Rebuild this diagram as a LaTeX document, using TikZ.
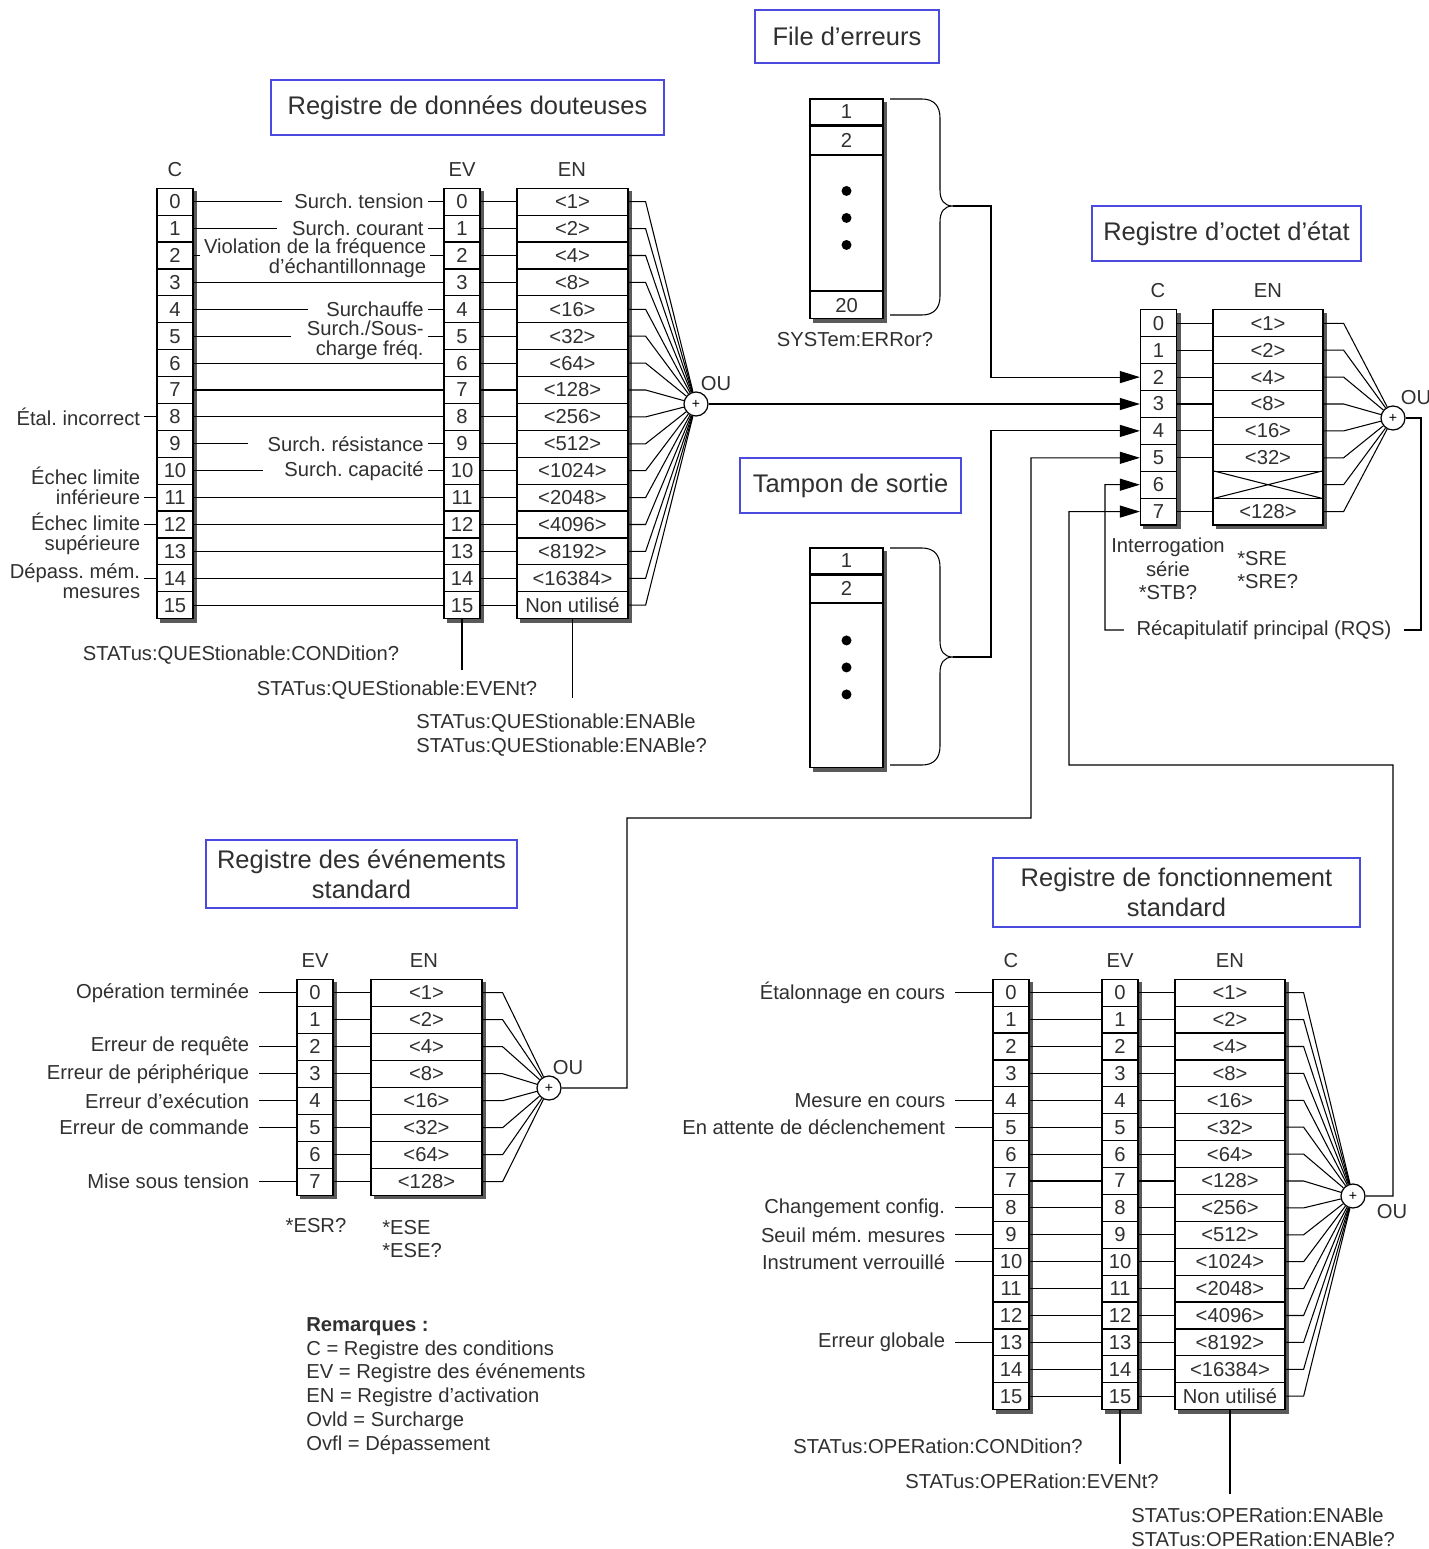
\documentclass[tikz,border=0pt]{standalone}
\usepackage{fontspec}
\setmainfont{Liberation Sans}
\usetikzlibrary{arrows.meta,positioning,calc,backgrounds}
\definecolor{ttl}{HTML}{4A4ADE}
\definecolor{ink}{HTML}{303030}
\definecolor{shd}{HTML}{5A5A5A}
\newcommand\cellfont{\fontsize{11.5}{11.5}\selectfont}
\newcommand\ttlfont{\fontsize{14.5}{17}\selectfont}
\newcommand\notefont{\fontsize{11.5}{13.6}\selectfont}
\frenchspacing
\tikzset{
  >={Triangle[length=4mm,width=2.4mm]},
  cellbox/.style={draw,fill=white,line width=0.7pt,minimum width=#1,minimum height=5.38mm,inner sep=0pt,font=\cellfont,text=ink},
  cellbox/.default=7.2mm,
  ttlbox/.style={draw=ttl,line width=1.1pt,inner sep=0pt,align=center,font=\ttlfont,text=ink},
  hdr/.style={font=\cellfont,text=ink},
  lbl/.style={font=\cellfont,text=ink,align=right,inner xsep=2pt,inner ysep=0pt},
  note/.style={font=\notefont,text=ink,inner sep=0pt},
  orgate/.style={circle,draw,fill=white,line width=0.7pt,minimum size=4.8mm,inner sep=0pt,font=\fontsize{8}{8}\selectfont},
  wire/.style={line width=0.6pt},
  arr/.style={wire,->},
  shdfill/.style={fill=shd},
}
\def\enlist{0/<1>,1/<2>,2/<4>,3/<8>,4/<16>,5/<32>,6/<64>,7/<128>,8/<256>,9/<512>,10/<1024>,11/<2048>,12/<4096>,13/<8192>,14/<16384>,15/Non utilisé}

\begin{document}
\frenchspacing
\begin{tikzpicture}[x=0.02cm,y=-0.02cm]
\useasboundingbox (0,0) rectangle (1429,1549);

% registre de donnees douteuses
\node[ttlbox,minimum width=7.86cm,minimum height=1.1cm] (qttl) at (467.5,107.5) {Registre de données douteuses};
\node[hdr] (qhc) at (175,170) {C};
\node[hdr] (qhev) at (462,170) {EV};
\node[hdr] (qhen) at (572,170) {EN};
\node[orgate] (qor) at (696,404) {+};
\node[hdr] (qou) at (716,384) {OU};
\foreach \i/\val in \enlist {
  \node[cellbox] (qc\i) at (175,201.7+26.9*\i) {\i};
  \node[cellbox] (qev\i) at (462,201.7+26.9*\i) {\i};
  \node[cellbox=2.22cm] (qen\i) at (572.5,201.7+26.9*\i) {\val};
  \draw[wire] (qev\i.east) -- (qen\i.west);
  \draw[wire] (qen\i.east) -- ++(17,0) -- (qor);
}
\foreach \i in {3,6,7,8,11,12,13,14,15} \draw[wire] (qc\i.east) -- (qev\i.west);
\node[lbl,anchor=east] (ql0) at (427.5,201.7) {Surch. tension};
\node[lbl,anchor=east] (ql1) at (427.5,228.6) {Surch. courant};
\node[lbl,anchor=east] (ql2) at (430,258) {Violation de la fréquence\\d'échantillonnage};
\node[lbl,anchor=east] (ql4) at (427.5,309.3) {Surchauffe};
\node[lbl,anchor=east] (ql5) at (427.5,340) {Surch./Sous-\\charge fréq.};
\node[lbl,anchor=east] (ql9) at (427.5,443.8) {Surch. résistance};
\node[lbl,anchor=east] (ql10) at (427.5,470.7) {Surch. capacité};
\foreach \i/\g in {0/1.7mm,1/2.3mm,2/0mm,4/2.9mm,5/2.4mm,9/3.1mm,10/3.5mm} {
  \draw[wire,shorten >=\g] (qc\i.east) -- (qc\i.east -| ql\i.west);
  \draw[wire] (ql\i.east |- qev\i.west) -- (qev\i.west);
}
\node[lbl,anchor=east] (qll8) at (144,416.9) {Étal. incorrect};
\node[lbl,anchor=east] (qll11) at (144,486) {Échec limite\\inférieure};
\node[lbl,anchor=east] (qll12) at (144,534) {Échec limite\\supérieure};
\node[lbl,anchor=east] (qll14) at (144,581) {Dépass. mém.\\mesures};
\foreach \i in {8,11,12,14} \draw[wire] (qll\i.east |- qc\i.west) -- (qc\i.west);
\node[note] (qcq) at (241,655) {STATus:QUEStionable:CONDition?};
\node[note] (qevq) at (397,690) {STATus:QUEStionable:EVENt?};
\node[note,anchor=west,align=left] (qenq) at (416,735) {STATus:QUEStionable:ENABle\\STATus:QUEStionable:ENABle?};
\draw[wire,shorten >=2mm] (qev15.south) -- (qev15.south |- qevq.north);
\draw[wire,shorten >=3mm] (qen15.south) -- (qen15.south |- qenq.north);

% file d'erreurs
\node[ttlbox,minimum width=3.68cm,minimum height=1.06cm] (eqttl) at (847,36.5) {File d'erreurs};
\node[cellbox=1.46cm,minimum height=0.52cm] (eq1) at (846.5,112) {1};
\node[cellbox=1.46cm,minimum height=0.56cm,below=0pt of eq1] (eq2) {2};
\node[cellbox=1.46cm,minimum height=2.7cm,below=0pt of eq2] (eqmid) {};
\node[cellbox=1.46cm,minimum height=0.54cm,below=0pt of eqmid] (eq20) {20};
\foreach \d in {-32,-5,22} \fill[black] ($(eqmid.center)+(0,\d)$) circle[radius=1mm];
\draw[wire] (890,99) -- (922,99) .. controls (934,99) and (940,106) .. (940,118) -- (940,190)
  .. controls (940,200) and (944,206) .. (953,206) .. controls (944,206) and (940,212) .. (940,222)
  -- (940,296) .. controls (940,308) and (934,315) .. (922,315) -- (890,315);
\coordinate (eqtip) at (953,206);
\node[note] (eqq) at (855,340) {SYSTem:ERRor?};

% tampon de sortie
\node[ttlbox,minimum width=4.42cm,minimum height=1.1cm] (obttl) at (850.5,485.5) {Tampon de sortie};
\node[cellbox=1.46cm,minimum height=0.52cm] (ob1) at (846.5,561) {1};
\node[cellbox=1.46cm,minimum height=0.54cm,below=0pt of ob1] (ob2) {2};
\node[cellbox=1.46cm,minimum height=3.28cm,below=0pt of ob2] (obmid) {};
\foreach \d in {-45,-18,9} \fill[black] ($(obmid.center)+(0,\d)$) circle[radius=1mm];
\draw[wire] (890,548) -- (922,548) .. controls (934,548) and (940,555) .. (940,567) -- (940,641)
  .. controls (940,651) and (944,657) .. (953,657) .. controls (944,657) and (940,663) .. (940,673)
  -- (940,746) .. controls (940,758) and (934,765) .. (922,765) -- (890,765);
\coordinate (obtip) at (953,657);

% registre d'octet d'etat
\node[ttlbox,minimum width=5.38cm,minimum height=1.1cm] (sbttl) at (1226.5,233.5) {Registre d'octet d'état};
\node[hdr] (sbhc) at (1158,291) {C};
\node[hdr] (sbhen) at (1268,291) {EN};
\node[orgate] (sbor) at (1393,418) {+};
\node[hdr] (sbou) at (1416,398) {OU};
\foreach \i/\val in {0/<1>,1/<2>,2/<4>,3/<8>,4/<16>,5/<32>,6/,7/<128>} {
  \node[cellbox] (sbc\i) at (1158.5,323.3+26.9*\i) {\i};
  \node[cellbox=2.2cm] (sben\i) at (1268,323.3+26.9*\i) {\val};
  \draw[wire] (sben\i.east) -- ++(20,0) -- (sbor);
}
\foreach \i in {0,1,2,3,4,5,7} \draw[wire] (sbc\i.east) -- (sben\i.west);
\draw[wire] (sben6.north west) -- (sben6.south east) (sben6.south west) -- (sben6.north east);
\node[note,align=center,font=\fontsize{11.5}{13.3}\selectfont] (stb) at (1168,569) {Interrogation\\série\\*STB?};
\node[note,align=left,anchor=west] (sre) at (1237,570) {*SRE\\*SRE?};
\node[note,inner xsep=7pt] (rqs) at (1264,630) {Récapitulatif principal (RQS)};
\draw[wire] (sbor.east) -| (1421,630) -- (rqs.east);
\draw[arr] (rqs.west) -| (1105,484.7) -- (sbc6.west);
\draw[arr] (eqtip) -- ++(38,0) |- (sbc2.west);
\draw[arr] (qor.east) -- (qor.east -| sbc3.west);
\draw[arr] (obtip) -- ++(38,0) |- (sbc4.west);

% registre des evenements standard
\node[ttlbox,minimum width=6.22cm,minimum height=1.36cm] (settl) at (361.5,874) {Registre des événements\\standard};
\node[hdr] (sehev) at (315,961) {EV};
\node[hdr] (sehen) at (424,961) {EN};
\node[orgate] (seor) at (549,1088) {+};
\node[hdr] (seou) at (568,1068) {OU};
\foreach \i/\val in {0/<1>,1/<2>,2/<4>,3/<8>,4/<16>,5/<32>,6/<64>,7/<128>} {
  \node[cellbox] (seev\i) at (315,992.7+27*\i) {\i};
  \node[cellbox=2.22cm] (seen\i) at (426.5,992.7+27*\i) {\val};
  \draw[wire] (seev\i.east) -- (seen\i.west);
  \draw[wire] (seen\i.east) -- ++(20,0) -- (seor);
}
\foreach \i/\nm in {0/Opération terminée,2/Erreur de requête,3/Erreur de périphérique,4/Erreur d'exécution,5/Erreur de commande,7/Mise sous tension} {
  \node[lbl,anchor=east] (sel\i) at (253,992.7+27*\i) {\nm};
  \draw[wire,shorten <=1.2mm] (sel\i.east) -- (seev\i.west);
}
\node[note] (esr) at (316,1226) {*ESR?};
\node[note,align=left,anchor=west] (ese) at (382,1239) {*ESE\\*ESE?};
\draw[arr] (seor.east) -| (627,818) -| (1031,457.8) -- (sbc5.west);
\node[note,align=left,anchor=west] (rem) at (306,1386) {\textbf{Remarques :}\\C = Registre des conditions\\EV = Registre des événements\\EN = Registre d'activation\\Ovld = Surcharge\\Ovfl = Dépassement};

% registre de fonctionnement standard
\node[ttlbox,minimum width=7.34cm,minimum height=1.38cm] (opttl) at (1176.5,892.5) {Registre de fonctionnement\\standard};
\node[hdr] (ophc) at (1011,961) {C};
\node[hdr] (ophev) at (1120,961) {EV};
\node[hdr] (ophen) at (1230,961) {EN};
\node[orgate] (opor) at (1353,1196) {+};
\node[hdr] (opou) at (1392,1212) {OU};
\foreach \i/\val in \enlist {
  \node[cellbox] (opc\i) at (1011,992.7+26.9*\i) {\i};
  \node[cellbox] (opev\i) at (1120,992.7+26.9*\i) {\i};
  \node[cellbox=2.2cm] (open\i) at (1230,992.7+26.9*\i) {\val};
  \draw[wire] (opc\i.east) -- (opev\i.west);
  \draw[wire] (opev\i.east) -- (open\i.west);
  \draw[wire] (open\i.east) -- ++(18,0) -- (opor);
}
\foreach \i/\nm in {0/Étalonnage en cours,4/Mesure en cours,5/En attente de déclenchement,8/Changement config.,9/Seuil mém. mesures,10/Instrument verrouillé,13/Erreur globale} {
  \node[lbl,anchor=east] (opl\i) at (949,992.7+26.9*\i) {\nm};
  \draw[wire,shorten <=1.2mm] (opl\i.east) -- (opc\i.west);
}
\node[note] (opcq) at (938,1446) {STATus:OPERation:CONDition?};
\node[note] (opevq) at (1032,1481) {STATus:OPERation:EVENt?};
\node[note,anchor=west,align=left] (openq) at (1131,1527) {STATus:OPERation:ENABle\\STATus:OPERation:ENABle?};
\draw[wire,shorten >=1.8mm] (opev15.south) -- (opev15.south |- opevq.north);
\draw[wire,shorten >=2.6mm] (open15.south) -- (open15.south |- openq.north);
\draw[arr] (opor.east) -| (1393,765) -| (1069,511.6) -- (sbc7.west);

% ombres
\begin{scope}[on background layer]
\fill[white] (0,0) rectangle (1429,1549);
\foreach \a/\b in {qc0/qc15,qev0/qev15,qen0/qen15,eq1/eq20,ob1/obmid,sbc0/sbc7,sben0/sben7,seev0/seev7,seen0/seen7,opc0/opc15,opev0/opev15,open0/open15}
  \fill[shdfill] ($(\a.north west)+(3.5,3.5)$) rectangle ($(\b.south east)+(3.5,3.5)$);
\end{scope}
\end{tikzpicture}
\end{document}
